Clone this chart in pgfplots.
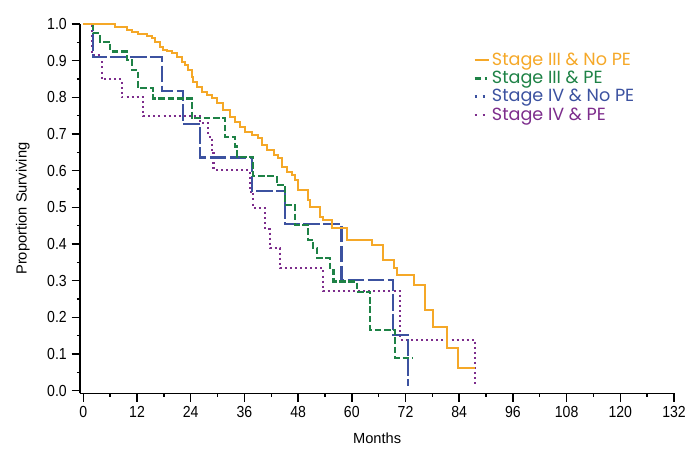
\documentclass[border=0pt]{standalone}
\usepackage{fontspec}
\usepackage{pgfplots}
\pgfplotsset{compat=1.18}
\setmainfont{Liberation Sans}
\newfontfamily\tickfont[FakeStretch=0.88]{Liberation Sans}
\newfontfamily\legfont{Poppins}
\definecolor{cOr}{RGB}{245,168,40}
\definecolor{cGr}{RGB}{30,130,70}
\definecolor{cBl}{RGB}{60,82,160}
\definecolor{cPu}{RGB}{125,45,140}
\begin{document}
\begin{tikzpicture}
\begin{axis}[
  at={(0,0)}, anchor=south west,
  scale only axis, width=445.4pt, height=277pt,
  xmin=-0.7, xmax=132, ymin=-0.007, ymax=1,
  axis x line*=bottom, axis y line*=left,
  axis line style={line width=1.1pt,-},
  xtick={0,12,24,36,48,60,72,84,96,108,120,132},
  minor xtick={6,18,30,42,54,66,78,90,102,114,126},
  ytick={0,0.1,0.2,0.3,0.4,0.5,0.6,0.7,0.8,0.9,1},
  minor ytick={0.05,0.15,0.25,0.35,0.45,0.55,0.65,0.75,0.85,0.95},
  tick align=outside,
  major tick length=6.5pt, minor tick length=2.5pt,
  tick style={line width=1.1pt,black},
  /pgf/number format/assume math mode=true,
  yticklabel style={/pgf/number format/.cd, fixed, fixed zerofill, precision=1},
  ticklabel style={font=\tickfont\fontsize{12}{14}\selectfont},
  xlabel={Months}, ylabel={Proportion Surviving},
  label style={font=\fontsize{11}{13}\selectfont},
  xlabel style={at={(axis description cs:0.5,0)}, anchor=center, yshift=-33.7pt},
  ylabel style={at={(axis description cs:-0.0966,0.5)}, anchor=center},
  legend image code/.code={\draw[#1] (0pt,0pt) -- (10.5pt,0pt);},
  legend style={at={(axis description cs:0.6615,0.928)}, anchor=north west,
    draw=none, fill=none, font=\legfont\fontsize{13.2}{15}\selectfont,
    row sep=-0.2pt, inner sep=0pt, nodes={inner sep=1.5pt}},
  legend cell align=left,
]
\addlegendimage{cOr, solid, line width=1.5pt}
\addlegendentry{\textcolor{cOr}{Stage III \& No PE}}
\addlegendimage{cGr, line width=2pt, dash pattern=on 5pt off 2.5pt on 2pt off 5pt}
\addlegendentry{\textcolor{cGr}{Stage III \& PE}}
\addlegendimage{cBl, line width=2pt, dash pattern=on 2pt off 4pt on 2pt off 4pt}
\addlegendentry{\textcolor{cBl}{Stage IV \& No PE}}
\addlegendimage{cPu, line width=2pt, dash pattern=on 2pt off 4pt on 2pt off 4pt}
\addlegendentry{\textcolor{cPu}{Stage IV \& PE}}

% Stage IV & PE (purple, dotted)
\addplot[const plot, forget plot, cPu, line width=1.6pt, dash pattern=on 1.5pt off 2.3pt] coordinates {
(0,1) (2.0,0.915) (4.1,0.849) (8.6,0.80) (13.4,0.749) (26.1,0.729) (27.9,0.693)
(28.7,0.652) (29.1,0.602) (37.2,0.543) (38.0,0.498) (40.6,0.44) (41.7,0.389)
(44.0,0.334) (53.6,0.271) (70.8,0.139) (87.5,0.012)
};
% Stage IV & No PE (blue, long dash)
\addplot[const plot, forget plot, cBl, line width=1.6pt, dash pattern=on 12.5pt off 2.5pt] coordinates {
(0,1) (2.2,0.909) (17.5,0.818) (22.3,0.727) (26.1,0.636) (37.6,0.545)
(45.1,0.455) (57.7,0.303) (69.3,0.152) (72.6,0.012)
};
% Stage III & PE (green, dashed)
\addplot[const plot, forget plot, cGr, line width=1.6pt, dash pattern=on 5pt off 2pt] coordinates {
(0,1) (2.2,0.975) (3.7,0.952) (6.0,0.925) (9.7,0.902) (10.8,0.875) (12.3,0.825)
(15.6,0.797) (24.2,0.743) (31.7,0.693) (33.9,0.666) (34.3,0.638) (38.0,0.586)
(43.2,0.561) (45.1,0.507) (47.3,0.452) (50.3,0.411) (51.4,0.389) (52.2,0.362)
(55.1,0.33) (55.9,0.298) (61.1,0.27) (64.1,0.166) (69.7,0.089) (73.7,0.089)
};
% Stage III & No PE (orange, solid)
\addplot[const plot, forget plot, cOr, line width=1.5pt] coordinates {
(0,1) (7.1,0.993) (9.7,0.984) (10.8,0.979) (12.3,0.973) (14.2,0.967) (15.3,0.961)
(16.0,0.952) (17.1,0.938) (17.9,0.929) (18.6,0.925) (19.8,0.92) (20.9,0.911)
(22.0,0.897) (22.7,0.888) (23.5,0.875) (24.2,0.856) (24.6,0.843) (25.3,0.829)
(26.5,0.815) (27.6,0.806) (28.7,0.797) (29.8,0.784) (31.3,0.765) (32.8,0.747)
(33.9,0.734) (35.0,0.72) (36.1,0.706) (37.6,0.697) (39.1,0.688) (39.9,0.67)
(41.0,0.656) (42.5,0.643) (43.6,0.634) (44.3,0.611) (45.5,0.597) (46.6,0.588)
(47.3,0.575) (48.0,0.547) (50.3,0.52) (50.7,0.502) (52.9,0.474) (53.6,0.466)
(55.5,0.443) (58.9,0.411) (64.6,0.398) (67.0,0.357) (69.5,0.334) (70.2,0.316)
(73.9,0.289) (76.4,0.22) (78.2,0.175) (81.2,0.116) (83.8,0.062) (87.5,0.062)
};
\end{axis}
\pgfresetboundingbox
\path (-60.15pt,-50pt) rectangle (464.9pt,295pt);
\end{tikzpicture}
\end{document}
